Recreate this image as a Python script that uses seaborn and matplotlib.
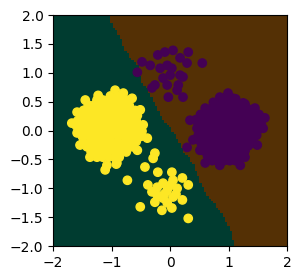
import numpy as np
import pandas as pd
import seaborn as sns
import matplotlib
matplotlib.use("Agg")
import matplotlib.pyplot as plt

# class 0 (purple): big blob right, small group top
purple_main = [
    (0.99, 0.65), (0.85, 0.58), (0.74, 0.49), (0.60, 0.39), (0.34, 0.18), (0.46, 0.04),
    (0.39, -0.16), (0.51, -0.34), (0.60, -0.56), (0.85, -0.60), (1.20, -0.60), (1.28, -0.46),
    (1.49, -0.25), (1.59, 0.04), (1.62, 0.22), (1.45, 0.39), (1.25, 0.48), (1.08, 0.56),
    (0.29, -0.29),
    (0.92, 0.55), (1.02, 0.55), (1.12, 0.55),
    (0.78, 0.46), (0.88, 0.46), (0.98, 0.46), (1.08, 0.46), (1.18, 0.46), (1.28, 0.46),
    (0.64, 0.37), (0.74, 0.37), (0.84, 0.37), (0.94, 0.37), (1.04, 0.37), (1.14, 0.37),
    (1.24, 0.37), (1.34, 0.37), (1.42, 0.37),
    (0.52, 0.28), (0.62, 0.28), (0.72, 0.28), (0.82, 0.28), (0.92, 0.28), (1.02, 0.28),
    (1.12, 0.28), (1.22, 0.28), (1.32, 0.28), (1.42, 0.28), (1.52, 0.28),
    (0.44, 0.19), (0.54, 0.19), (0.64, 0.19), (0.74, 0.19), (0.84, 0.19), (0.94, 0.19),
    (1.04, 0.19), (1.14, 0.19), (1.24, 0.19), (1.34, 0.19), (1.44, 0.19), (1.54, 0.19),
    (0.48, 0.10), (0.58, 0.10), (0.68, 0.10), (0.78, 0.10), (0.88, 0.10), (0.98, 0.10),
    (1.08, 0.10), (1.18, 0.10), (1.28, 0.10), (1.38, 0.10), (1.48, 0.10), (1.56, 0.10),
    (0.50, 0.01), (0.60, 0.01), (0.70, 0.01), (0.80, 0.01), (0.90, 0.01), (1.00, 0.01),
    (1.10, 0.01), (1.20, 0.01), (1.30, 0.01), (1.40, 0.01), (1.50, 0.01),
    (0.48, -0.08), (0.58, -0.08), (0.68, -0.08), (0.78, -0.08), (0.88, -0.08), (0.98, -0.08),
    (1.08, -0.08), (1.18, -0.08), (1.28, -0.08), (1.38, -0.08), (1.48, -0.08),
    (0.50, -0.17), (0.60, -0.17), (0.70, -0.17), (0.80, -0.17), (0.90, -0.17), (1.00, -0.17),
    (1.10, -0.17), (1.20, -0.17), (1.30, -0.17), (1.40, -0.17),
    (0.54, -0.26), (0.64, -0.26), (0.74, -0.26), (0.84, -0.26), (0.94, -0.26), (1.04, -0.26),
    (1.14, -0.26), (1.24, -0.26), (1.34, -0.26),
    (0.58, -0.35), (0.68, -0.35), (0.78, -0.35), (0.88, -0.35), (0.98, -0.35), (1.08, -0.35),
    (1.18, -0.35), (1.28, -0.35),
    (0.64, -0.44), (0.74, -0.44), (0.84, -0.44), (0.94, -0.44), (1.04, -0.44), (1.14, -0.44),
    (1.22, -0.44),
    (0.72, -0.52), (0.82, -0.52), (0.92, -0.52), (1.02, -0.52), (1.12, -0.52),
]
purple_small = [
    (-0.48, 1.19), (-0.56, 1.01), (-0.21, 1.31), (-0.09, 1.36), (0.05, 1.39), (0.31, 1.36),
    (0.55, 1.17), (0.29, 1.17), (0.17, 1.26), (-0.05, 1.13), (-0.17, 1.08), (0.00, 0.96),
    (0.17, 0.96), (0.22, 0.93), (-0.12, 0.91), (-0.26, 0.79), (-0.31, 0.74), (-0.05, 0.79),
    (0.14, 0.79), (-0.03, 0.58), (0.22, 0.58), (0.12, 0.70), (-0.34, 1.13), (0.03, 1.08),
]

# class 1 (yellow): big blob left, small group bottom, a few strays
yellow_main = [
    (-0.94, 0.70), (-1.23, 0.61), (-1.45, 0.53), (-1.59, 0.32), (-1.68, 0.13), (-1.59, -0.04),
    (-1.54, -0.25), (-1.37, -0.46), (-1.08, -0.60), (-0.91, -0.56), (-0.56, -0.34), (-0.39, -0.13),
    (-0.46, 0.10), (-0.51, 0.36), (-0.65, 0.56), (-0.80, 0.65), (-1.11, -0.68), (-0.92, -0.58),
    (-1.02, 0.60), (-0.92, 0.60), (-0.84, 0.60),
    (-1.25, 0.53), (-1.15, 0.53), (-1.05, 0.53), (-0.95, 0.53), (-0.85, 0.53), (-0.75, 0.53),
    (-1.40, 0.44), (-1.30, 0.44), (-1.20, 0.44), (-1.10, 0.44), (-1.00, 0.44), (-0.90, 0.44),
    (-0.80, 0.44), (-0.70, 0.44),
    (-1.48, 0.35), (-1.38, 0.35), (-1.28, 0.35), (-1.18, 0.35), (-1.08, 0.35), (-0.98, 0.35),
    (-0.88, 0.35), (-0.78, 0.35), (-0.68, 0.35), (-0.60, 0.35),
    (-1.53, 0.26), (-1.43, 0.26), (-1.33, 0.26), (-1.23, 0.26), (-1.13, 0.26), (-1.03, 0.26),
    (-0.93, 0.26), (-0.83, 0.26), (-0.73, 0.26), (-0.63, 0.26), (-0.56, 0.26),
    (-1.58, 0.17), (-1.48, 0.17), (-1.38, 0.17), (-1.28, 0.17), (-1.18, 0.17), (-1.08, 0.17),
    (-0.98, 0.17), (-0.88, 0.17), (-0.78, 0.17), (-0.68, 0.17), (-0.58, 0.17),
    (-1.60, 0.08), (-1.50, 0.08), (-1.40, 0.08), (-1.30, 0.08), (-1.20, 0.08), (-1.10, 0.08),
    (-1.00, 0.08), (-0.90, 0.08), (-0.80, 0.08), (-0.70, 0.08), (-0.60, 0.08), (-0.52, 0.08),
    (-1.55, -0.01), (-1.45, -0.01), (-1.35, -0.01), (-1.25, -0.01), (-1.15, -0.01), (-1.05, -0.01),
    (-0.95, -0.01), (-0.85, -0.01), (-0.75, -0.01), (-0.65, -0.01), (-0.55, -0.01), (-0.48, -0.01),
    (-1.50, -0.10), (-1.40, -0.10), (-1.30, -0.10), (-1.20, -0.10), (-1.10, -0.10), (-1.00, -0.10),
    (-0.90, -0.10), (-0.80, -0.10), (-0.70, -0.10), (-0.60, -0.10), (-0.50, -0.10),
    (-1.48, -0.19), (-1.38, -0.19), (-1.28, -0.19), (-1.18, -0.19), (-1.08, -0.19), (-0.98, -0.19),
    (-0.88, -0.19), (-0.78, -0.19), (-0.68, -0.19), (-0.58, -0.19),
    (-1.42, -0.28), (-1.32, -0.28), (-1.22, -0.28), (-1.12, -0.28), (-1.02, -0.28), (-0.92, -0.28),
    (-0.82, -0.28), (-0.72, -0.28), (-0.64, -0.28),
    (-1.35, -0.37), (-1.25, -0.37), (-1.15, -0.37), (-1.05, -0.37), (-0.95, -0.37), (-0.85, -0.37),
    (-0.75, -0.37),
    (-1.25, -0.46), (-1.15, -0.46), (-1.05, -0.46), (-0.95, -0.46), (-0.87, -0.46),
]
yellow_small = [
    (-0.26, -0.39), (-0.29, -0.48), (-0.43, -0.63), (-0.21, -0.72), (0.03, -0.72), (-0.38, -0.94),
    (-0.22, -0.98), (-0.12, -0.91), (0.05, -0.86), (0.21, -0.82), (0.31, -0.94), (-0.05, -1.03),
    (0.12, -1.00), (-0.22, -1.12), (-0.31, -1.06), (-0.12, -1.17), (0.21, -1.20), (-0.26, -1.24),
    (-0.14, -1.38), (0.03, -1.34), (-0.51, -1.32), (0.31, -1.52), (-0.73, -0.86),
    (-0.10, -1.10), (0.05, -1.15), (-0.05, -1.25), (0.10, -1.10), (0.00, -0.95),
]

# decision boundary (x of the edge at each y)
boundary_y = [2.00, 1.83, 1.62, 1.39, 1.27, 1.13, 0.87, 0.70, 0.53, 0.35, 0.18,
              0.01, -0.16, -0.34, -0.56, -0.86, -1.15, -1.43, -1.72, -2.00]
boundary_x = [-1.03, -0.99, -0.85, -0.77, -0.68, -0.56, -0.51, -0.38, -0.29, -0.21, -0.12,
              0.03, 0.14, 0.22, 0.39, 0.51, 0.65, 0.89, 1.03, 1.11]

purple = purple_main + purple_small
yellow = yellow_main + yellow_small
df = pd.DataFrame(purple + yellow, columns=["x", "y"])
df["label"] = [0] * len(purple) + [1] * len(yellow)

# mesh for the background
xx, yy = np.meshgrid(np.arange(-2, 2.02, 0.04), np.arange(-2, 2.02, 0.04))
edge = np.interp(yy, boundary_y[::-1], boundary_x[::-1])
zz = (xx < edge).astype(float)

fig = plt.figure(figsize=(3, 2.8), dpi=100)
ax = fig.add_axes([0.177, 0.121, 0.78, 0.825])
ax.pcolormesh(xx, yy, zz, cmap="BrBG", shading="nearest")

# plain matplotlib-style dots: face-coloured edge of width 1
sns.scatterplot(data=df, x="x", y="y", hue="label",
                palette={0: "#440154", 1: "#fde725"},
                s=36, linewidth=1, edgecolor="face", legend=False, ax=ax)

ax.set_xlim(-2, 2)
ax.set_ylim(-2, 2)
ax.set_xlabel("")
ax.set_ylabel("")

fig.savefig("out.png", dpi=100)
